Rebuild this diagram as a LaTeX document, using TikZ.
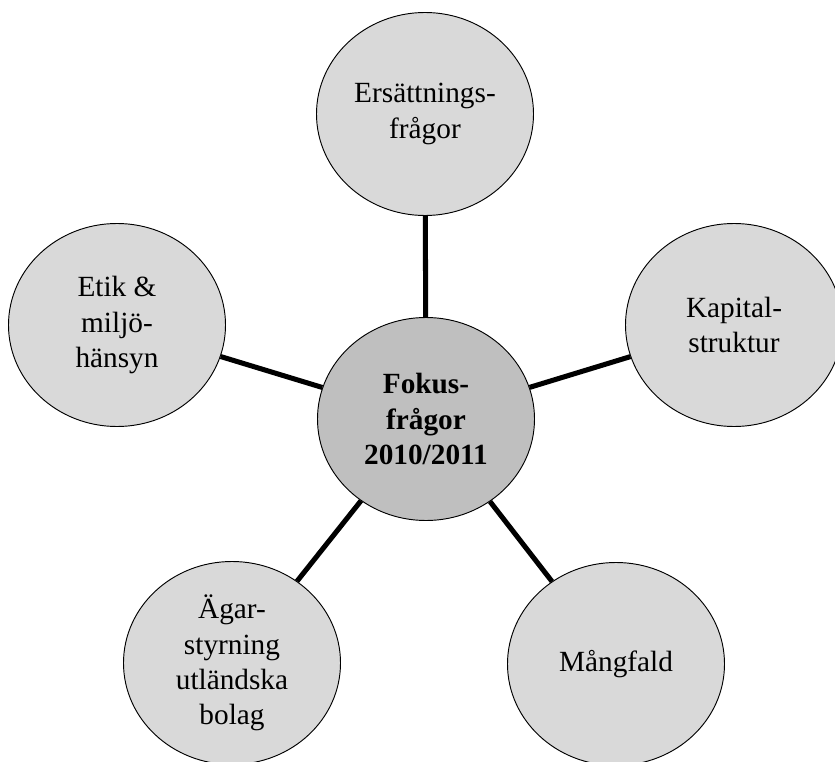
\documentclass[tikz,border=0pt]{standalone}
\usepackage{fontspec}
\setmainfont{Liberation Serif}
\usetikzlibrary{shapes.geometric}

\definecolor{outergray}{HTML}{D9D9D9}
\definecolor{innergray}{HTML}{BFBFBF}

\begin{document}
\begin{tikzpicture}[x=0.03cm,y=-0.03cm,
  topic/.style={ellipse,draw=black,line width=0.8pt,fill=outergray,
    minimum width=6.51cm,minimum height=6.09cm,inner sep=0pt,
    align=center,font=\fontsize{25}{30}\selectfont},
  spoke/.style={line width=4.3pt,black}]

  \useasboundingbox (0,0) rectangle (835,762);

  % centre
  \node[topic,fill=innergray,font=\fontsize{25}{30}\selectfont\bfseries] (fokus) at (426,419) {Fokus-\\frågor\\2010/2011};

  % the five topics
  \node[topic] (ersattning) at (425,114) {Ersättnings-\\frågor};
  \node[topic] (kapital) at (734,325) {Kapital-\\struktur};
  \node[topic] (mangfald) at (616,664) {Mångfald};
  \node[topic] (agar) at (232,663) {Ägar-\\styrning\\utländska\\bolag};
  \node[topic] (etik) at (117,325) {Etik \&\\miljö-\\hänsyn};

  \foreach \n in {ersattning,kapital,mangfald,agar,etik}
    \draw[spoke] (fokus) -- (\n);

\end{tikzpicture}
\end{document}
